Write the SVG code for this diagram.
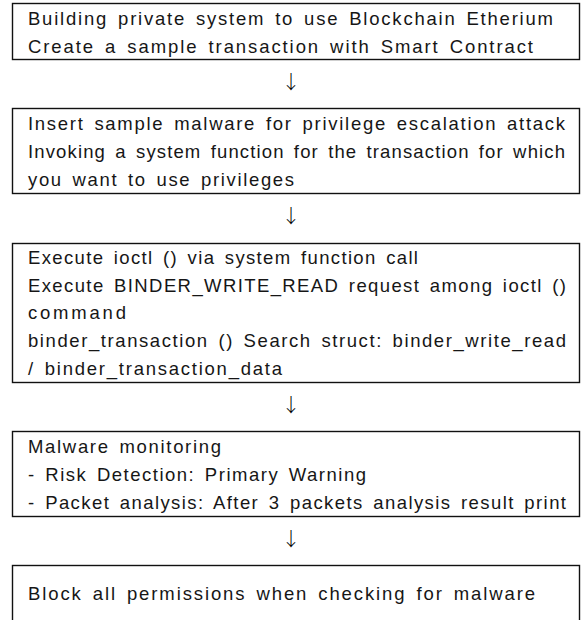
<svg xmlns="http://www.w3.org/2000/svg" width="582" height="620" viewBox="0 0 582 620">
  <style>
    .box { fill: #ffffff; stroke: #111111; stroke-width: 1.4; }
    .t { font-family: "Liberation Sans", Arial, sans-serif; font-size: 18.5px; word-spacing: 3px; fill: #161616; }
    .arrow { font-family: "Noto Sans CJK KR", "DejaVu Sans", sans-serif; font-size: 19px; font-weight: 300; fill: #000000; text-anchor: middle; }
  </style>
  <rect x="0" y="0" width="582" height="620" fill="#ffffff"/>

  <g id="step1">
    <rect class="box" x="12.5" y="3.5" width="567" height="56"/>
    <text class="t" x="28" y="25" textLength="525" lengthAdjust="spacing">Building private system to use Blockchain Etherium</text>
    <text class="t" x="28" y="53" textLength="505" lengthAdjust="spacing">Create a sample transaction with Smart Contract</text>
  </g>

  <g id="step2">
    <rect class="box" x="12.5" y="108.5" width="567" height="85"/>
    <text class="t" x="28" y="130" textLength="537" lengthAdjust="spacing">Insert sample malware for privilege escalation attack</text>
    <text class="t" x="28" y="158" textLength="537" lengthAdjust="spacing">Invoking a system function for the transaction for which</text>
    <text class="t" x="28" y="186" textLength="266" lengthAdjust="spacing">you want to use privileges</text>
  </g>

  <g id="step3">
    <rect class="box" x="12.5" y="243.5" width="567" height="139"/>
    <text class="t" x="28" y="264" textLength="390" lengthAdjust="spacing">Execute ioctl () via system function call</text>
    <text class="t" x="28" y="292" textLength="538" lengthAdjust="spacing">Execute BINDER_WRITE_READ request among ioctl ()</text>
    <text class="t" x="28" y="319" textLength="98" lengthAdjust="spacing">command</text>
    <text class="t" x="28" y="347" textLength="538" lengthAdjust="spacing">binder_transaction () Search struct: binder_write_read</text>
    <text class="t" x="28" y="375" textLength="254" lengthAdjust="spacing">/ binder_transaction_data</text>
  </g>

  <g id="step4">
    <rect class="box" x="12.5" y="431.5" width="567" height="85"/>
    <text class="t" x="28" y="453" textLength="193" lengthAdjust="spacing">Malware monitoring</text>
    <text class="t" x="28" y="481" textLength="338" lengthAdjust="spacing">- Risk Detection: Primary Warning</text>
    <text class="t" x="28" y="509" textLength="538" lengthAdjust="spacing">- Packet analysis: After 3 packets analysis result print</text>
  </g>

  <g id="step5">
    <rect class="box" x="12.5" y="565.5" width="567" height="60"/>
    <text class="t" x="28" y="600" textLength="507" lengthAdjust="spacing">Block all permissions when checking for malware</text>
  </g>

  <g id="connectors">
    <text class="arrow" x="291" y="89">↓</text>
    <text class="arrow" x="291" y="223">↓</text>
    <text class="arrow" x="291" y="412">↓</text>
    <text class="arrow" x="291" y="546">↓</text>
  </g>
</svg>
